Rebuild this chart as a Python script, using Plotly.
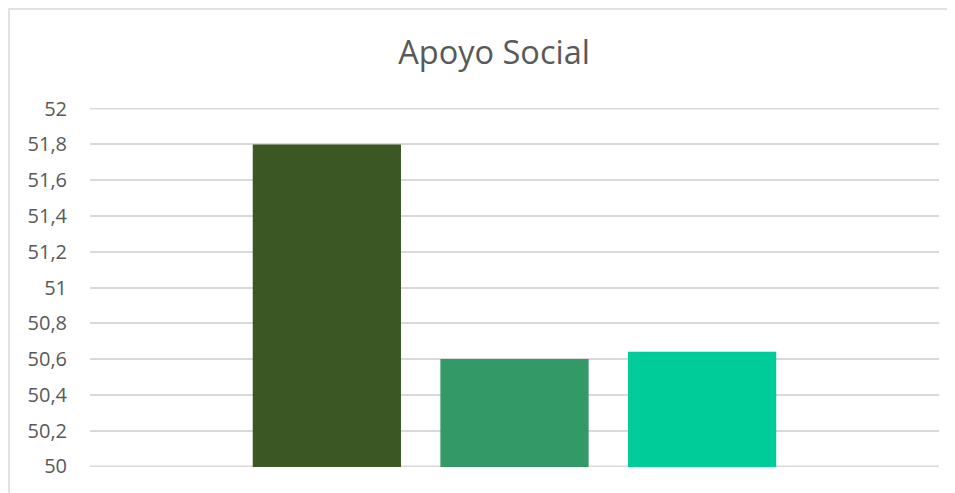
import plotly.graph_objects as go

title = "Apoyo Social"
category = [""]
series_names = ["Serie 1", "Serie 2", "Serie 3"]
series_values = [51.8, 50.6, 50.64]
colors = ["#3A5724", "#339966", "#00CC99"]
tick_vals = [50, 50.2, 50.4, 50.6, 50.8, 51, 51.2, 51.4, 51.6, 51.8, 52]
tick_text = ["50", "50,2", "50,4", "50,6", "50,8", "51", "51,2", "51,4", "51,6", "51,8", "52"]

fig = go.Figure()
for name, val, col in zip(series_names, series_values, colors):
    fig.add_trace(go.Bar(x=category, y=[val], name=name, marker=dict(color=col, line=dict(width=0))))

grid_color = "#D9D9D9"
edge_lines = [dict(type="line", xref="paper", yref="y", x0=0, x1=1, y0=v, y1=v,
                   line=dict(color=grid_color, width=1.5), layer="below")
              for v in (tick_vals[0], tick_vals[-1])]

fig.update_layout(
    width=955, height=493,
    margin=dict(l=82, r=24, t=100, b=34),
    paper_bgcolor="white", plot_bgcolor="white",
    barmode="group", bargap=0.337, bargroupgap=0.21,
    showlegend=False,
    separators=",.",
    title=dict(text=title, x=0.509, xanchor="center", y=0.9087, yanchor="middle",
               font=dict(family="Open Sans", size=32.5, color="#595959")),
    font=dict(family="Open Sans", color="#595959"),
    xaxis=dict(showticklabels=False, showgrid=False, zeroline=False, showline=False),
    yaxis=dict(range=[49.996, 52.004], tickvals=tick_vals, ticktext=tick_text,
               showgrid=True, gridcolor=grid_color, gridwidth=1.5, zeroline=False,
               showline=False, ticks="", ticklabelstandoff=22,
               tickfont=dict(family="Open Sans", size=20, color="#595959")),
    shapes=[dict(type="rect", xref="paper", yref="paper",
                 x0=-0.0954, x1=1.2, y0=-0.3, y1=1.2758,
                 line=dict(color=grid_color, width=1.5), fillcolor="rgba(0,0,0,0)", layer="below")]
           + edge_lines,
)

fig.write_html("out.html")
